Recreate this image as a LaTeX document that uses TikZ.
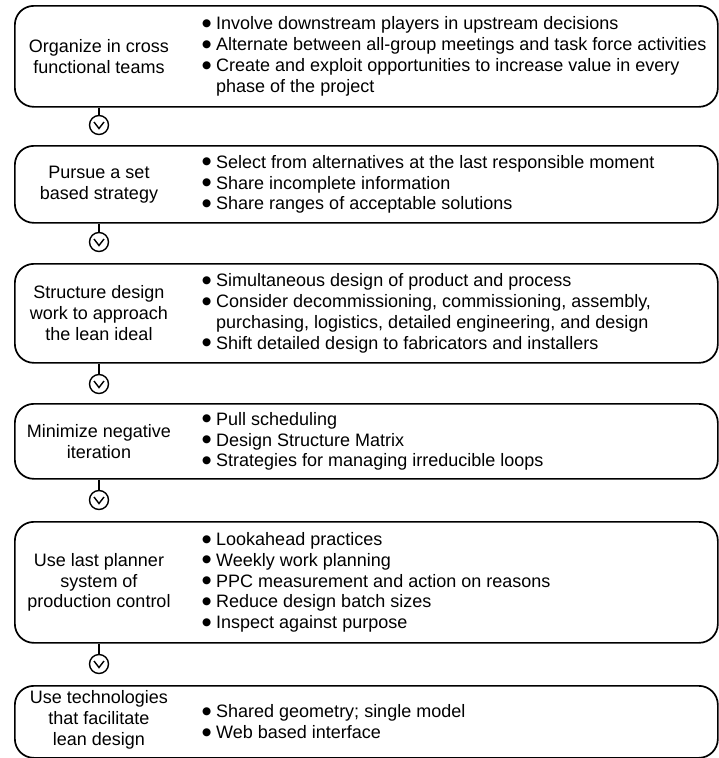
\documentclass[tikz,border=0pt]{standalone}
\usepackage{fontspec}
\setmainfont{Liberation Sans}
\newfontfamily\dotfont{DejaVu Sans}
\usetikzlibrary{calc}
\newcommand{\widthstage}{703pt}
\newcommand{\blt}{\makebox[14pt][l]{\raisebox{3.4pt}{\dotfont\fontsize{10.5}{10.5}\selectfont ●}}}
\newcommand{\cnt}{\makebox[14pt][l]{}}
\tikzset{
    common/.style={font=\fontsize{18}{20.8}\selectfont, inner sep=0pt},
    stage/.style={draw, line width=1.7pt, rounded corners=19pt, minimum width=\widthstage, anchor=north west},
    title/.style={common, align=center},
    items/.style={common, align=left, anchor=west},
    link/.style={line width=1.4pt},
    knot/.style={draw, link, circle, minimum size=19pt, inner sep=0pt,
        path picture={
            \draw[link]
                ([shift={(-5pt,3pt)}]path picture bounding box.center)
                -- ([shift={(0pt,-3.5pt)}]path picture bounding box.center)
                -- ([shift={(5pt,3pt)}]path picture bounding box.center);
        }
    }
}
\begin{document}
\begin{tikzpicture}[x=1pt, y=-1pt]
        \useasboundingbox (0,0) rectangle (719,758);

        \node[stage, minimum height=101pt] (S1) at (14,5) {};
        \node[stage, minimum height=77pt] (S2) at (14,145) {};
        \node[stage, minimum height=99pt] (S3) at (14,263) {};
        \node[stage, minimum height=75pt] (S4) at (14,403) {};
        \node[stage, minimum height=121pt] (S5) at (14,521) {};
        \node[stage, minimum height=72pt] (S6) at (14,685) {};

        \path
            ($(S1.west)+(85,0)$) node[title] (T1) {Organize in cross\\functional teams}
            ($(S1.west)+(188,0)$) node[items] (L1) {\blt Involve downstream players in upstream decisions\\\blt Alternate between all-group meetings and task force activities\\\blt Create and exploit opportunities to increase value in every\\\cnt phase of the project};

        \path
            ($(S2.west)+(85,0)$) node[title] (T2) {Pursue a set\\based strategy}
            ($(S2.west)+(188,0)$) node[items] (L2) {\blt Select from alternatives at the last responsible moment\\\blt Share incomplete information\\\blt Share ranges of acceptable solutions};

        \path
            ($(S3.west)+(85,0)$) node[title] (T3) {Structure design\\work to approach\\the lean ideal}
            ($(S3.west)+(188,0)$) node[items] (L3) {\blt Simultaneous design of product and process\\\blt Consider decommissioning, commissioning, assembly,\\\cnt purchasing, logistics, detailed engineering, and design\\\blt Shift detailed design to fabricators and installers};

        \path
            ($(S4.west)+(85,0)$) node[title] (T4) {Minimize negative\\iteration}
            ($(S4.west)+(188,0)$) node[items] (L4) {\blt Pull scheduling\\\blt Design Structure Matrix\\\blt Strategies for managing irreducible loops};

        \path
            ($(S5.west)+(85,0)$) node[title] (T5) {Use last planner\\system of\\production control}
            ($(S5.west)+(188,0)$) node[items] (L5) {\blt Lookahead practices\\\blt Weekly work planning\\\blt PPC measurement and action on reasons\\\blt Reduce design batch sizes\\\blt Inspect against purpose};

        \path
            ($(S6.west)+(85,-2)$) node[title] (T6) {Use technologies\\that facilitate\\lean design}
            ($(S6.west)+(188,0)$) node[items] (L6) {\blt Shared geometry; single model\\\blt Web based interface};

        \node[knot] (K1) at (99,125) {};
        \node[knot] (K2) at (99,242) {};
        \node[knot] (K3) at (99,384) {};
        \node[knot] (K4) at (99,500) {};
        \node[knot] (K5) at (99,664) {};

        \draw[link]
          (S1.south -| K1) -- (K1.north)
          (S2.south -| K2) -- (K2.north)
          (S3.south -| K3) -- (K3.north)
          (S4.south -| K4) -- (K4.north)
          (S5.south -| K5) -- (K5.north);
\end{tikzpicture}
\end{document}
